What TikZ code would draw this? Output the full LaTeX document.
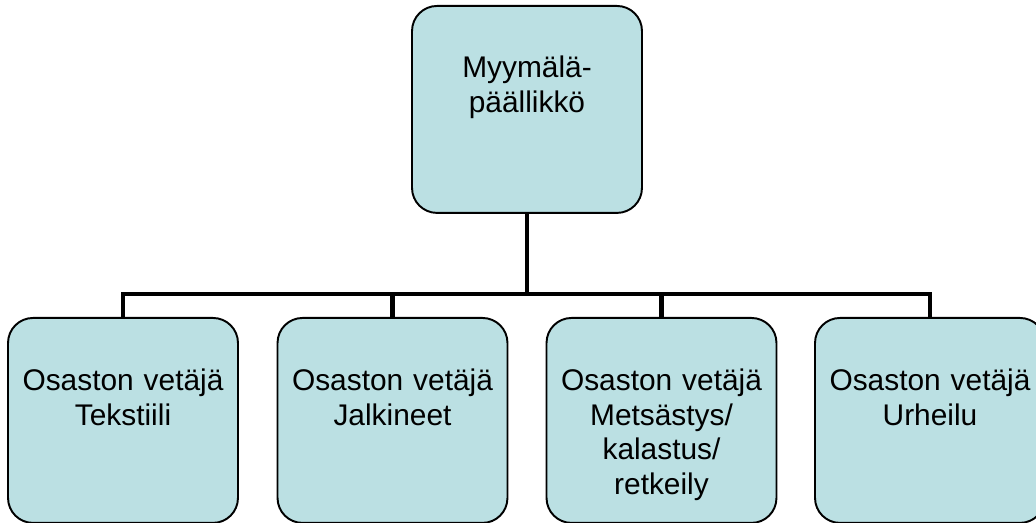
\documentclass[tikz,border=0pt]{standalone}
\usepackage{fontspec}
\setmainfont{Liberation Sans}
\definecolor{unitfill}{RGB}{187,224,227}
\tikzset{
  unit/.style={draw=black, line width=1.1pt, fill=unitfill, rounded corners=0.5cm,
    inner sep=0pt, minimum width=4.6cm, minimum height=4.1cm, anchor=north},
  caption/.style={anchor=base, align=center, text width=4.5cm, inner sep=0pt,
    font=\fontsize{17}{19.6}\selectfont},
  link/.style={line width=2.8pt, line join=miter}
}
\begin{document}
\begin{tikzpicture}[x=0.02cm, y=-0.02cm]
\clip (0,0) rectangle (1036,523);
% boxes
\node[unit, minimum height=4.14cm] (mgr) at (527,5) {};
\node[unit] (tekstiili) at (123,317) {};
\node[unit] (jalkineet) at (392.5,317) {};
\node[unit] (metsastys) at (661.5,317) {};
\node[unit] (urheilu) at (930,317) {};
% texts
\node[caption] (mgr-text) at ([yshift=-1.46cm]mgr.north) {Myymälä-\\päällikkö};
\node[caption] (tekstiili-text) at ([yshift=-1.48cm]tekstiili.north) {Osaston vetäjä\\Tekstiili};
\node[caption] (jalkineet-text) at ([yshift=-1.48cm]jalkineet.north) {Osaston vetäjä\\Jalkineet};
\node[caption] (metsastys-text) at ([yshift=-1.48cm]metsastys.north) {Osaston vetäjä\\Metsästys/\\kalastus/\\retkeily};
\node[caption] (urheilu-text) at ([yshift=-1.48cm]urheilu.north) {Osaston vetäjä\\Urheilu};
% connectors
\coordinate (bus) at (0,294);
\draw[link] (mgr.south) -- (mgr.south |- bus);
\draw[link] (tekstiili.north) -- (tekstiili.north |- bus) -- (urheilu.north |- bus) -- (urheilu.north);
\draw[link] (jalkineet.north |- bus) -- (jalkineet.north);
\draw[link] (metsastys.north |- bus) -- (metsastys.north);
\end{tikzpicture}
\end{document}
